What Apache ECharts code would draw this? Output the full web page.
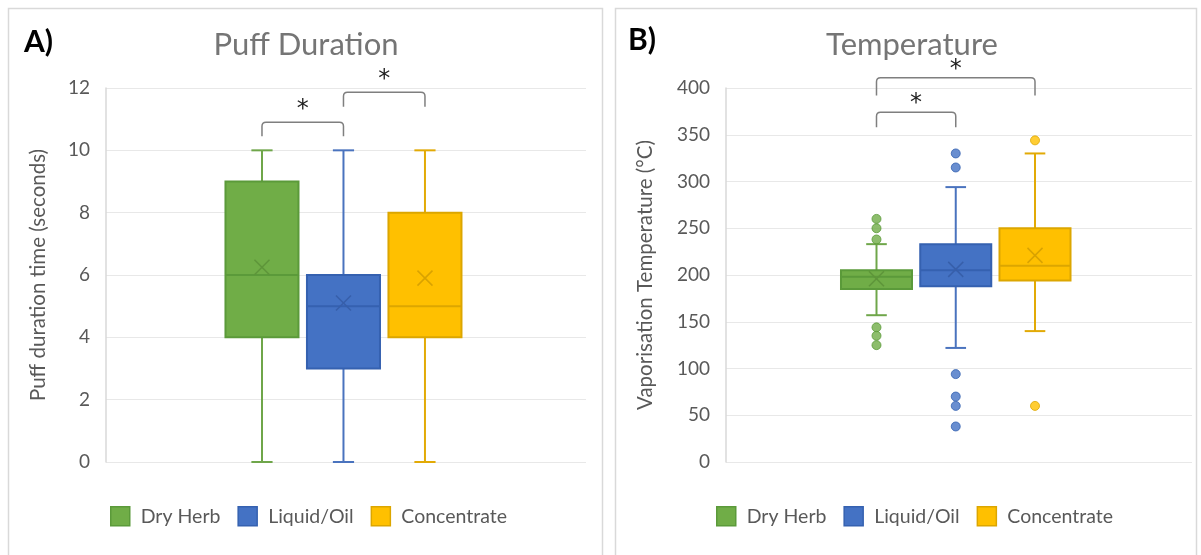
<!DOCTYPE html>
<html>
<head>
<meta charset="utf-8">
<script src="https://cdn.jsdelivr.net/npm/echarts@6/dist/echarts.min.js"></script>
<style>
html,body{margin:0;padding:0;background:#fff;}
#chart{width:1201px;height:555px;}
</style>
</head>
<body>
<div id="chart"></div>
<script>
// ---------- data ----------
const groups = ['Dry Herb', 'Liquid/Oil', 'Concentrate'];
// [min, Q1, median, Q3, max]
const puffStats = [
  [0, 4, 6, 9, 10],
  [0, 3, 5, 6, 10],
  [0, 4, 5, 8, 10]
];
const puffMeans = [6.25, 5.1, 5.9];
const tempStats = [
  [157, 185, 198, 205, 233],
  [122, 188, 205, 233, 294],
  [140, 194, 210, 250, 330]
];
const tempMeans = [196, 206, 221];
const tempOutliers = [
  [260, 250, 238, 144, 135, 125],
  [330, 315, 94, 70, 60, 38],
  [344, 60]
];
const puffTicks = [0, 2, 4, 6, 8, 10, 12];
const tempTicks = [0, 50, 100, 150, 200, 250, 300, 350, 400];
// significance brackets: [fromGroup, toGroup, legEnd, top, asteriskLevel]
const puffBrackets = [
  [0, 1, 10.45, 10.9, 11.3],
  [1, 2, 11.4, 11.86, 12.26]
];
const tempBrackets = [
  [0, 1, 358, 374, 383],
  [0, 2, 392, 411, 419]
];

// ---------- styles ----------
const FONT = 'Lato';
const fills = ['#70AD47', '#4472C4', '#FFC000'];
const borders = ['#5B9A3A', '#3561B0', '#DCA600'];
const whiskers = ['#6FA64A', '#4A73BE', '#E2AA06'];
const crosses = ['#5E953A', '#375FAA', '#D9A200'];
const BOX_W = 0.896;
const CAP_W = 0.26;

function makeBoxRenderer(ci) {
  return function (params, api) {
    const x = api.value(0);
    const mn = api.coord([x, api.value(1)]);
    const q1 = api.coord([x, api.value(2)]);
    const md = api.coord([x, api.value(3)]);
    const q3 = api.coord([x, api.value(4)]);
    const mx = api.coord([x, api.value(5)]);
    const mean = api.coord([x, api.value(6)]);
    const hw = api.size([BOX_W, 0])[0] / 2;
    const cw = api.size([CAP_W, 0])[0] / 2;
    const cx = mn[0];
    const ws = { stroke: whiskers[ci], lineWidth: 2 };
    const xs = 7.5;
    return {
      type: 'group',
      children: [
        { type: 'line', shape: { x1: cx, y1: q3[1], x2: cx, y2: mx[1] }, style: ws },
        { type: 'line', shape: { x1: cx, y1: q1[1], x2: cx, y2: mn[1] }, style: ws },
        { type: 'line', shape: { x1: cx - cw, y1: mx[1], x2: cx + cw, y2: mx[1] }, style: ws },
        { type: 'line', shape: { x1: cx - cw, y1: mn[1], x2: cx + cw, y2: mn[1] }, style: ws },
        { type: 'rect', shape: { x: cx - hw, y: q3[1], width: 2 * hw, height: q1[1] - q3[1] },
          style: { fill: fills[ci], stroke: borders[ci], lineWidth: 2 } },
        { type: 'line', shape: { x1: cx - hw, y1: md[1], x2: cx + hw, y2: md[1] },
          style: { stroke: borders[ci], lineWidth: 2 } },
        { type: 'line', shape: { x1: cx - xs, y1: mean[1] - xs, x2: cx + xs, y2: mean[1] + xs },
          style: { stroke: crosses[ci], lineWidth: 1.5 } },
        { type: 'line', shape: { x1: cx - xs, y1: mean[1] + xs, x2: cx + xs, y2: mean[1] - xs },
          style: { stroke: crosses[ci], lineWidth: 1.5 } }
      ]
    };
  };
}

function renderBracket(params, api) {
  const a = api.value(0), b = api.value(1);
  const p1 = api.coord([a, api.value(2)]);
  const p2 = api.coord([b, api.value(2)]);
  const t = api.coord([a, api.value(3)])[1];
  const s = api.coord([(a + b) / 2, api.value(4)]);
  const r = 4;
  const d = 'M' + p1[0] + ',' + p1[1] + ' L' + p1[0] + ',' + (t + r) +
    ' Q' + p1[0] + ',' + t + ' ' + (p1[0] + r) + ',' + t +
    ' L' + (p2[0] - r) + ',' + t +
    ' Q' + p2[0] + ',' + t + ' ' + p2[0] + ',' + (t + r) +
    ' L' + p2[0] + ',' + p2[1];
  return {
    type: 'group',
    children: [
      { type: 'path', shape: { pathData: d }, style: { fill: 'none', stroke: '#7F7F7F', lineWidth: 1.5 } },
      { type: 'text', x: s[0], y: s[1],
        style: { text: '*', fill: '#1F1F1F', font: '24px "DejaVu Sans"', textAlign: 'center', textVerticalAlign: 'middle' } }
    ]
  };
}

const series = [];
groups.forEach(function (g, i) {
  series.push({
    name: g, type: 'custom', xAxisIndex: 0, yAxisIndex: 0, clip: false,
    itemStyle: { color: fills[i], borderColor: borders[i] },
    renderItem: makeBoxRenderer(i),
    encode: { x: 0, y: [1, 2, 3, 4, 5, 6] },
    data: [[i].concat(puffStats[i], [puffMeans[i]])]
  });
});
groups.forEach(function (g, i) {
  series.push({
    name: g, type: 'custom', xAxisIndex: 1, yAxisIndex: 1, clip: false,
    itemStyle: { color: fills[i], borderColor: borders[i] },
    renderItem: makeBoxRenderer(i),
    encode: { x: 0, y: [1, 2, 3, 4, 5, 6] },
    data: [[i].concat(tempStats[i], [tempMeans[i]])]
  });
  series.push({
    name: g, type: 'scatter', xAxisIndex: 1, yAxisIndex: 1,
    symbol: 'circle', symbolSize: 9,
    itemStyle: { color: fills[i], borderColor: borders[i], borderWidth: 1 },
    data: tempOutliers[i].map(function (v) { return [i, v]; }),
    z: 3
  });
});
series.push({
  name: 'sig-a', type: 'custom', xAxisIndex: 0, yAxisIndex: 0, clip: false,
  renderItem: renderBracket, encode: { x: [0, 1], y: [2, 3, 4] }, data: puffBrackets, silent: true
});
series.push({
  name: 'sig-b', type: 'custom', xAxisIndex: 1, yAxisIndex: 1, clip: false,
  renderItem: renderBracket, encode: { x: [0, 1], y: [2, 3, 4] }, data: tempBrackets, silent: true
});

function yAxisCfg(idx, ticks, name, nameGap) {
  return {
    type: 'value', gridIndex: idx,
    min: ticks[0], max: ticks[ticks.length - 1], interval: ticks[1] - ticks[0],
    name: name, nameLocation: 'middle', nameRotate: 90, nameGap: nameGap,
    nameTextStyle: { fontFamily: FONT, fontSize: 20.5, color: '#595959' },
    axisLine: { show: true, onZero: false, lineStyle: { color: '#D9D9D9', width: 1.5 } },
    axisTick: { show: false },
    axisLabel: { fontFamily: FONT, fontSize: 19, color: '#595959', margin: 16 },
    splitLine: { show: true, lineStyle: { color: '#E8E8E8', width: 1.2 } }
  };
}

function legendCfg(left) {
  return {
    left: left, top: 506, orient: 'horizontal', padding: 0,
    icon: 'rect', itemWidth: 19, itemHeight: 19, itemGap: 17,
    textStyle: { fontFamily: FONT, fontSize: 19.5, color: '#595959', padding: [0, 0, 0, 6] },
    selectedMode: false,
    data: groups.map(function (g, i) {
      return { name: g, itemStyle: { color: fills[i], borderColor: borders[i], borderWidth: 1.5 } };
    })
  };
}

const chart = echarts.init(document.getElementById('chart'), null, { renderer: 'canvas' });
chart.setOption({
  animation: false,
  backgroundColor: '#ffffff',
  grid: [
    { left: 106, top: 88, width: 480, height: 374 },
    { left: 726, top: 88, width: 466, height: 374 }
  ],
  xAxis: [
    { type: 'value', gridIndex: 0, min: -1.914, max: 3.976, show: false },
    { type: 'value', gridIndex: 1, min: -1.899, max: 3.981, show: false }
  ],
  yAxis: [
    yAxisCfg(0, puffTicks, 'Puff duration time (seconds)', 57),
    yAxisCfg(1, tempTicks, 'Vaporisation Temperature (°C)', 70)
  ],
  legend: [legendCfg(110), legendCfg(716)],
  graphic: [
    { type: 'rect', shape: { x: 8.5, y: 8.5, width: 594, height: 560 }, style: { fill: 'none', stroke: '#D9D9D9', lineWidth: 1.5 }, silent: true },
    { type: 'rect', shape: { x: 615.5, y: 8.5, width: 581, height: 560 }, style: { fill: 'none', stroke: '#D9D9D9', lineWidth: 1.5 }, silent: true },
    { type: 'text', x: 24, y: 42, style: { text: 'A)', font: 'bold 30px ' + FONT, fill: '#000000', textVerticalAlign: 'middle' } },
    { type: 'text', x: 628, y: 40, style: { text: 'B)', font: 'bold 30px ' + FONT, fill: '#000000', textVerticalAlign: 'middle' } },
    { type: 'text', x: 306, y: 45, style: { text: 'Puff Duration', font: '31px ' + FONT, fill: '#757575', textAlign: 'center', textVerticalAlign: 'middle' } },
    { type: 'text', x: 912, y: 45, style: { text: 'Temperature', font: '31px ' + FONT, fill: '#757575', textAlign: 'center', textVerticalAlign: 'middle' } }
  ],
  series: series
});
</script>
</body>
</html>
